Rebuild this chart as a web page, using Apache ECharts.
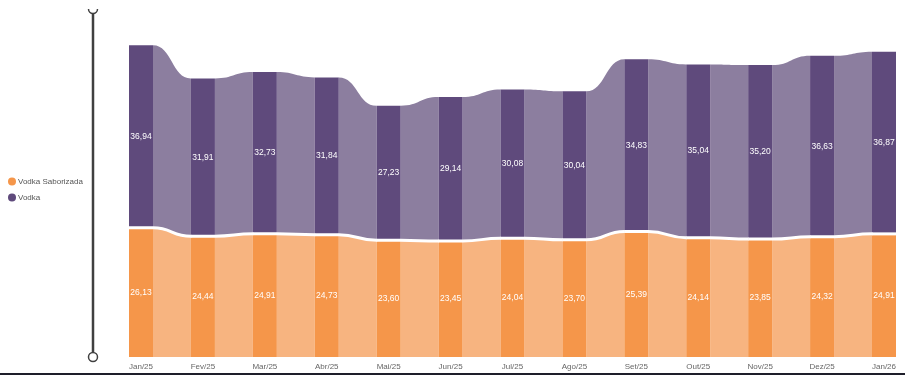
<!DOCTYPE html>
<html>
<head>
<meta charset="utf-8">
<script src="https://cdn.jsdelivr.net/npm/echarts@6/dist/echarts.min.js"></script>
<style>html,body{margin:0;padding:0;background:#fff;}#chart{width:909px;height:379px;}</style>
</head>
<body>
<div id="chart"></div>
<script>
const categories = ['Jan/25','Fev/25','Mar/25','Abr/25','Mai/25','Jun/25','Jul/25','Ago/25','Set/25','Out/25','Nov/25','Dez/25','Jan/26'];
const vodkaSaborizada = [26.13, 24.44, 24.91, 24.73, 23.60, 23.45, 24.04, 23.70, 25.39, 24.14, 23.85, 24.32, 24.91];
const vodka = [36.94, 31.91, 32.73, 31.84, 27.23, 29.14, 30.08, 30.04, 34.83, 35.04, 35.20, 36.63, 36.87];
const seriesNames = ['Vodka Saborizada', 'Vodka'];

const BAR_W = 24;
const COLORS = {
  orangeBar: '#F5964A', orangeRibbon: '#F7B480',
  purpleBar: '#5F4A7C', purpleRibbon: '#8C7E9F'
};
const fmt = v => v.toFixed(2).replace('.', ',');

function sCurve(x1, y1, x2, y2) {
  const g = x2 - x1;
  return ` C ${x1 + g * 0.5} ${y1} ${x2 - g * 0.5} ${y2} ${x2} ${y2}`;
}

function makeRender(lowerArr, upperArr, barColor, ribbonColor, drawLine) {
  return function (params, api) {
    const i = params.dataIndex;
    const n = categories.length;
    const lo = lowerArr ? lowerArr[i] : 0;
    const hi = lo + upperArr[i];
    const pLo = api.coord([i, lo]);
    const pHi = api.coord([i, hi]);
    const x = pLo[0];
    const children = [];
    if (i < n - 1) {
      const lo2 = lowerArr ? lowerArr[i + 1] : 0;
      const hi2 = lo2 + upperArr[i + 1];
      const qLo = api.coord([i + 1, lo2]);
      const qHi = api.coord([i + 1, hi2]);
      const xr = x + BAR_W / 2, xl = qLo[0] - BAR_W / 2;
      const d = `M ${xr} ${pLo[1]} L ${xr} ${pHi[1]}` + sCurve(xr, pHi[1], xl, qHi[1]) +
        ` L ${xl} ${qLo[1]}` + sCurve(xl, qLo[1], xr, pLo[1]) + ' Z';
      children.push({ type: 'path', shape: { pathData: d }, style: { fill: ribbonColor }, z2: 1 });
      if (drawLine) {
        const ld = `M ${x - BAR_W / 2} ${pLo[1]} L ${xr} ${pLo[1]}` + sCurve(xr, pLo[1], xl, qLo[1]) + ` L ${xl + 0.5} ${qLo[1]}`;
        children.push({ type: 'path', shape: { pathData: ld }, style: { fill: null, stroke: '#fff', lineWidth: 3 }, z2: 10 });
      }
    } else if (drawLine) {
      const ld = `M ${x - BAR_W / 2} ${pLo[1]} L ${x + BAR_W / 2} ${pLo[1]}`;
      children.push({ type: 'path', shape: { pathData: ld }, style: { fill: null, stroke: '#fff', lineWidth: 3 }, z2: 10 });
    }
    children.push({ type: 'rect', shape: { x: x - BAR_W / 2, y: pHi[1], width: BAR_W, height: pLo[1] - pHi[1] }, style: { fill: barColor }, z2: 2 });
    children.push({ type: 'text', z2: 20, style: { text: fmt(upperArr[i]), x: x, y: (pLo[1] + pHi[1]) / 2, fill: '#ffffff', fontSize: 8.5, fontFamily: 'Liberation Sans, Arial, sans-serif', align: 'center', verticalAlign: 'middle' } });
    return { type: 'group', children };
  };
}

const chart = echarts.init(document.getElementById('chart'), null, { renderer: 'canvas' });
chart.setOption({
  animation: false,
  backgroundColor: '#fff',
  grid: { left: 141, right: 25, top: 11, bottom: 22, containLabel: false },
  legend: {
    orient: 'vertical', left: 3, top: 171,
    icon: 'circle', itemWidth: 8, itemHeight: 8, itemGap: 5,
    textStyle: { color: '#555', fontSize: 8, lineHeight: 11, fontFamily: 'Liberation Sans, Arial, sans-serif', padding: [0, 0, 0, -3] },
    data: seriesNames
  },
  xAxis: {
    type: 'category', data: categories, boundaryGap: false,
    axisLine: { show: false }, axisTick: { show: false },
    axisLabel: { color: '#666', fontSize: 8, margin: 6, fontFamily: 'Liberation Sans, Arial, sans-serif' }
  },
  yAxis: { type: 'value', min: 0, max: 70, show: false, splitLine: { show: false } },
  series: [
    {
      name: seriesNames[0], type: 'custom', clip: false, itemStyle: { color: COLORS.orangeBar },
      renderItem: makeRender(null, vodkaSaborizada, COLORS.orangeBar, COLORS.orangeRibbon, false),
      data: vodkaSaborizada.map((v, i) => [i, v])
    },
    {
      name: seriesNames[1], type: 'custom', clip: false, itemStyle: { color: COLORS.purpleBar },
      renderItem: makeRender(vodkaSaborizada, vodka, COLORS.purpleBar, COLORS.purpleRibbon, true),
      data: vodka.map((v, i) => [i, v + vodkaSaborizada[i]])
    }
  ],
  graphic: [
    { type: 'line', shape: { x1: 93, y1: 14, x2: 93, y2: 352 }, style: { stroke: '#404040', lineWidth: 2.5 } },
    { type: 'arc', shape: { cx: 93, cy: 9, r: 4.5, startAngle: 0, endAngle: Math.PI }, style: { stroke: '#404040', lineWidth: 1.5, fill: null } },
    { type: 'circle', shape: { cx: 93, cy: 357, r: 4.5 }, style: { stroke: '#404040', lineWidth: 1.5, fill: '#fff' } },
    { type: 'line', shape: { x1: 0, y1: 374, x2: 905, y2: 374 }, style: { stroke: '#1e1e2a', lineWidth: 2 } }
  ]
});
</script>
</body>
</html>
